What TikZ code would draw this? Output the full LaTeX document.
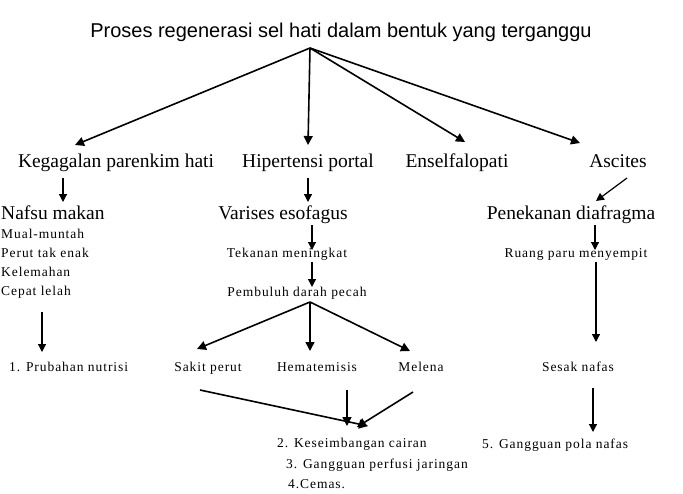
\documentclass[tikz,border=0pt]{standalone}
\usepackage{fontspec}
\setmainfont{Liberation Serif}
\newfontfamily\titlefont{Liberation Sans}
\newfontfamily\spacedfont[LetterSpace=7]{Liberation Serif}
\usetikzlibrary{arrows.meta}
\begin{document}
\begin{tikzpicture}[x=1pt,y=-1pt,
  big/.style={font=\fontsize{19.5}{22}\selectfont, inner sep=1pt, text height=13.5pt, text depth=4.5pt},
  small/.style={font=\spacedfont\fontsize{13.5}{15}\selectfont, inner sep=1pt, text height=9.5pt, text depth=3pt},
  arr/.style={-{Triangle[length=9pt,width=9pt]}, line width=1.6pt},
  thin/.style={-{Triangle[length=8pt,width=8pt]}, line width=1.2pt}]
\useasboundingbox (0,0) rectangle (683,493);
\node[font=\titlefont\fontsize{20}{22}\selectfont] (title) at (341,32) {Proses regenerasi sel hati dalam bentuk yang terganggu};
\coordinate (apex) at (310,48);
\node[big] (keg) at (116,163) {Kegagalan parenkim hati};
\node[big] (hip) at (308,163) {Hipertensi portal};
\node[big] (ens) at (457,163) {Enselfalopati};
\node[big] (asc) at (618,163) {Ascites};
\coordinate (a1) at (75,145); \coordinate (a2) at (308,145);
\coordinate (a3) at (465,142); \coordinate (a4) at (580,143);
\draw[arr] (apex) -- (a1); \draw[arr] (apex) -- (a2);
\draw[arr] (apex) -- (a3); \draw[arr] (apex) -- (a4);
% left column
\node[big,anchor=west] (naf) at (0,215) {Nafsu makan};
\coordinate (k1) at (63,178); \coordinate (k2) at (63,202);
\draw[thin] (k1) -- (k2);
\node[small,anchor=west] (m1) at (0,235) {Mual-muntah};
\node[small,anchor=west] (m2) at (0,254) {Perut tak enak};
\node[small,anchor=west] (m3) at (0,273) {Kelemahan};
\node[small,anchor=west] (m4) at (0,292) {Cepat lelah};
\coordinate (l1) at (42,312); \coordinate (l2) at (42,352);
\draw[thin] (l1) -- (l2);
\node[small,anchor=west] (nut) at (8,368) {1. Prubahan nutrisi};
% middle column
\coordinate (h1) at (308,178); \coordinate (h2) at (308,202);
\draw[thin] (h1) -- (h2);
\node[big] (var) at (283,215) {Varises esofagus};
\coordinate (v1) at (312,225); \coordinate (v2) at (312,250);
\draw[thin] (v1) -- (v2);
\node[small] (tek) at (287,254) {Tekanan meningkat};
\coordinate (t1) at (312,262); \coordinate (t2) at (312,287);
\draw[thin] (t1) -- (t2);
\node[small] (pem) at (297,293) {Pembuluh darah pecah};
\coordinate (p0) at (310,302);
\coordinate (p1) at (197,349); \coordinate (p2) at (310,351); \coordinate (p3) at (410,351);
\draw[arr] (p0) -- (p1); \draw[arr] (p0) -- (p2); \draw[arr] (p0) -- (p3);
\node[small] (sak) at (208,368) {Sakit perut};
\node[small] (hem) at (317,368) {Hematemisis};
\node[small] (mel) at (421,368) {Melena};
\coordinate (c1) at (200,390); \coordinate (c1e) at (368,426);
\coordinate (c2) at (347,390); \coordinate (c2e) at (347,426);
\coordinate (c3) at (413,392); \coordinate (c3e) at (357,427);
\draw[arr] (c1) -- (c1e); \draw[arr] (c2) -- (c2e); \draw[arr] (c3) -- (c3e);
\node[small,anchor=west] (o2) at (276,444) {2. Keseimbangan cairan};
\node[small,anchor=west] (o3) at (285,465) {3. Gangguan perfusi jaringan};
\node[small,anchor=west] (o4) at (287,485) {4.Cemas.};
% right column
\coordinate (s1) at (627,178); \coordinate (s2) at (596,201);
\draw[thin] (s1) -- (s2);
\node[big] (pen) at (571,215) {Penekanan diafragma};
\coordinate (r1) at (595,225); \coordinate (r2) at (595,250);
\draw[thin] (r1) -- (r2);
\node[small] (rua) at (576,254) {Ruang paru menyempit};
\coordinate (q1) at (596,262); \coordinate (q2) at (596,342);
\draw[thin] (q1) -- (q2);
\node[small] (ses) at (578,368) {Sesak nafas};
\coordinate (w1) at (593,388); \coordinate (w2) at (593,432);
\draw[thin] (w1) -- (w2);
\node[small,anchor=west] (o5) at (481,445) {5. Gangguan pola nafas};
\end{tikzpicture}
\end{document}
